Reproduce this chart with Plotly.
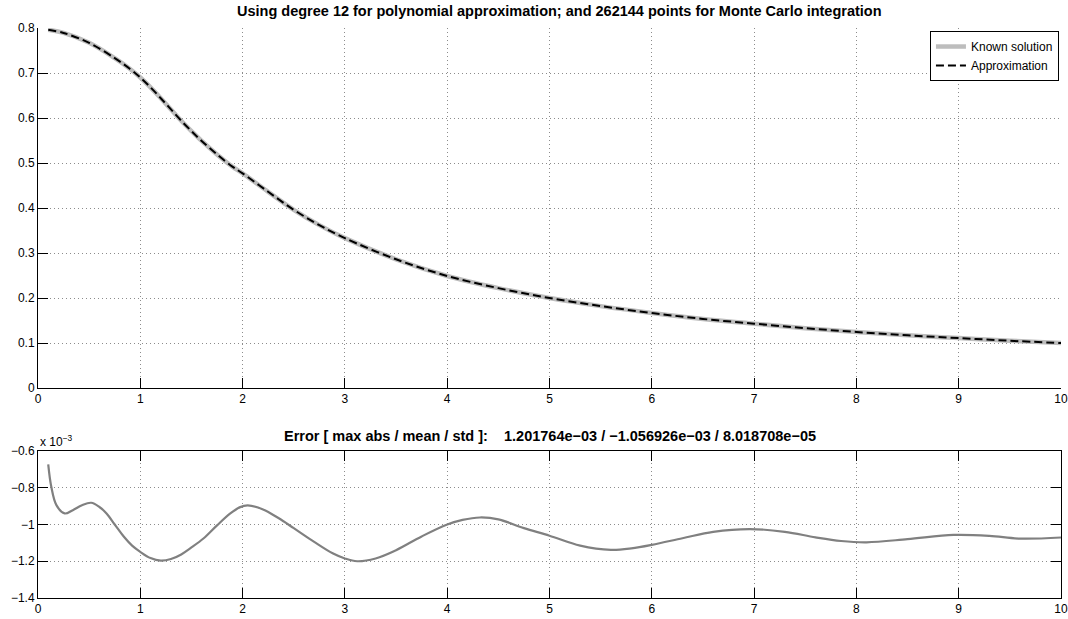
import plotly.graph_objects as go

# ---- data ----
x_curve = [0.1, 0.25, 0.5, 0.75, 0.9, 1.0, 1.1, 1.2, 1.3, 1.4, 1.5, 1.6, 1.75, 1.9,
           2.0, 2.25, 2.5, 2.75, 3.0, 3.5, 4.0, 4.5, 5.0, 5.5, 6.0, 6.5, 7.0, 7.5,
           8.0, 8.5, 9.0, 9.5, 10.0]
known_values = [0.796, 0.789, 0.767, 0.733, 0.709, 0.690, 0.668, 0.644, 0.619, 0.594,
                0.571, 0.549, 0.519, 0.492, 0.477, 0.436, 0.396, 0.362, 0.333, 0.286,
                0.249, 0.222, 0.200, 0.182, 0.1667, 0.1535, 0.143, 0.133, 0.1245,
                0.117, 0.111, 0.105, 0.100]
approx_values = [0.796, 0.789, 0.767, 0.733, 0.709, 0.690, 0.668, 0.644, 0.619, 0.594,
                 0.571, 0.549, 0.519, 0.492, 0.477, 0.436, 0.396, 0.362, 0.333, 0.286,
                 0.249, 0.222, 0.200, 0.182, 0.1667, 0.1535, 0.143, 0.133, 0.1245,
                 0.117, 0.111, 0.105, 0.100]

x_err = [0.1, 0.13, 0.18, 0.26, 0.34, 0.43, 0.52, 0.6, 0.67, 0.75, 0.84, 0.92, 1.0,
         1.1, 1.2, 1.3, 1.4, 1.5, 1.62, 1.75, 1.88, 1.97, 2.05, 2.2, 2.35, 2.5, 2.7,
         2.88, 3.0, 3.12, 3.3, 3.5, 3.75, 4.0, 4.15, 4.32, 4.5, 4.75, 5.0, 5.3, 5.6,
         5.8, 6.0, 6.3, 6.6, 6.96, 7.3, 7.6, 7.85, 8.1, 8.5, 8.95, 9.3, 9.6, 10.0]
err_values = [-0.673, -0.795, -0.895, -0.94, -0.922, -0.895, -0.882, -0.905, -0.94,
              -1.0, -1.067, -1.115, -1.149, -1.183, -1.197, -1.188, -1.163, -1.125,
              -1.075, -1.005, -0.94, -0.907, -0.896, -0.918, -0.965, -1.02, -1.095,
              -1.157, -1.185, -1.2, -1.185, -1.14, -1.065, -1.0, -0.975, -0.962,
              -0.972, -1.02, -1.061, -1.115, -1.138, -1.13, -1.111, -1.075, -1.04,
              -1.025, -1.04, -1.07, -1.09, -1.097, -1.08, -1.057, -1.062, -1.077,
              -1.071]

x_ticks = list(range(0, 11))
top_y_ticks = [0, 0.1, 0.2, 0.3, 0.4, 0.5, 0.6, 0.7, 0.8]
bottom_y_ticks = [-1.4, -1.2, -1.0, -0.8, -0.6]
bottom_y_labels = ["\u22121.4", "\u22121.2", "\u22121", "\u22120.8", "\u22120.6"]

title_top = "Using degree 12 for polynomial approximation; and 262144 points for Monte Carlo integration"
title_bottom = ("Error [ max abs / mean / std ]:\u00a0\u00a0\u00a0 1.201764e\u221203 / "
                "\u22121.056926e\u221203 / 8.018708e\u221205")

FONT = "Liberation Sans, Arial, Helvetica, sans-serif"

fig = go.Figure()
fig.add_trace(go.Scatter(x=x_curve, y=known_values, mode="lines", name="Known solution",
                         line=dict(color="#bdbdbd", width=4.5, shape="spline"),
                         xaxis="x", yaxis="y"))
fig.add_trace(go.Scatter(x=x_curve, y=approx_values, mode="lines", name="Approximation",
                         line=dict(color="black", width=2, dash="8px,4px", shape="spline"),
                         xaxis="x", yaxis="y"))
fig.add_trace(go.Scatter(x=x_err, y=err_values, mode="lines", showlegend=False,
                         line=dict(color="#808080", width=2.2, shape="spline"),
                         xaxis="x2", yaxis="y2"))

axis_common = dict(
    ticks="inside", ticklen=10, tickwidth=1, tickcolor="black",
    showline=True, linecolor="black", linewidth=1,
    showgrid=True, gridcolor="#8c8c8c", gridwidth=1, griddash="1px,3px",
    zeroline=False, tickfont=dict(family=FONT, size=12, color="black"),
    automargin=False,
)

fig.update_layout(
    width=1068, height=619,
    margin=dict(l=38, r=7, t=28, b=21),
    paper_bgcolor="white", plot_bgcolor="white",
    font=dict(family=FONT, size=12, color="black"),
    xaxis=dict(domain=[0, 1], range=[0, 10], tickvals=x_ticks, anchor="y",
               mirror=False, **axis_common),
    yaxis=dict(domain=[0.3684, 1], range=[0, 0.8], tickvals=top_y_ticks, anchor="x",
               mirror=False, **axis_common),
    xaxis2=dict(domain=[0, 1], range=[0, 10], tickvals=x_ticks, anchor="y2",
                mirror="ticks", **axis_common),
    yaxis2=dict(domain=[0, 0.258], range=[-1.4, -0.6], tickvals=bottom_y_ticks,
                ticktext=bottom_y_labels, anchor="x2", mirror="ticks", **axis_common),
    legend=dict(x=0.998, y=0.9947, xanchor="right", yanchor="top",
                bgcolor="white", bordercolor="black", borderwidth=1,
                font=dict(family=FONT, size=12, color="black"),
                tracegroupgap=0, itemwidth=30),
    showlegend=True,
    annotations=[
        dict(text="<b>" + title_top + "</b>", xref="paper", yref="y domain",
             x=0.5, y=1, xanchor="center", yanchor="middle", yshift=17.5, xshift=10,
             showarrow=False, font=dict(family=FONT, size=14.5, color="black")),
        dict(text="<b>" + title_bottom + "</b>", xref="paper", yref="y2 domain",
             x=0.5, y=1, xanchor="center", yanchor="middle", yshift=15,
             showarrow=False, font=dict(family=FONT, size=14.5, color="black")),
        dict(text="x 10<sup>\u22123</sup>", xref="paper", yref="y2 domain",
             x=0, y=1, xanchor="left", yanchor="middle", yshift=10,
             showarrow=False, font=dict(family=FONT, size=12, color="black")),
    ],
)

# remove the default page margin so the 1068x619 figure fills the window exactly
fig.write_html("out.html",
               config={"displayModeBar": False},
               post_script="document.body.style.margin='0';document.body.style.overflow='hidden';")
